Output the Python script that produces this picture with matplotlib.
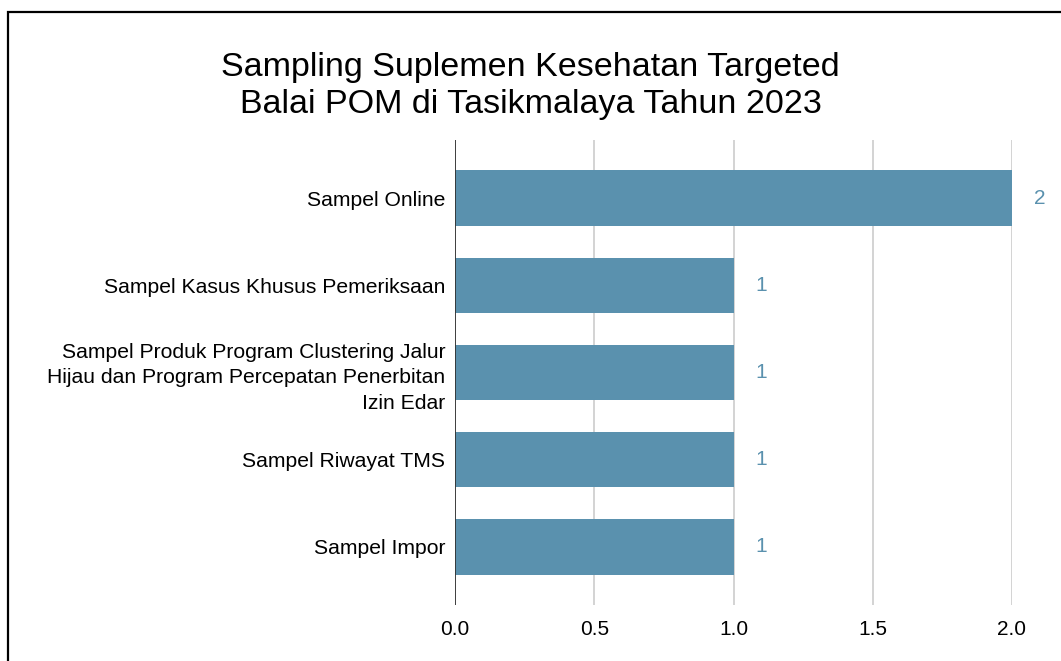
import matplotlib.pyplot as plt
from matplotlib.patches import Rectangle

# ---------- data ----------
categories = [
    "Sampel Online",
    "Sampel Kasus Khusus Pemeriksaan",
    "Sampel Produk Program Clustering Jalur\nHijau dan Program Percepatan Penerbitan\nIzin Edar",
    "Sampel Riwayat TMS",
    "Sampel Impor",
]
values = [2, 1, 1, 1, 1]
xticks = [0.0, 0.5, 1.0, 1.5, 2.0]

BAR_COLOR = "#5a91ae"
W, H = 1061, 661

plt.rcParams["font.family"] = ["Liberation Sans", "DejaVu Sans"]

fig = plt.figure(figsize=(W / 100, H / 100), dpi=100)
ax = fig.add_axes([455 / W, 1 - 605 / H, (1012 - 455) / W, (605 - 140) / H])

pos = list(range(len(categories)))
ax.barh(pos, values, height=0.64, color=BAR_COLOR, zorder=3)
for p, v in zip(pos, values):
    ax.text(v + 0.1, p, f"{v}", color=BAR_COLOR, fontsize=15,
            va="center", ha="center", clip_on=False)

ax.set_ylim(len(categories) - 0.33, -0.67)
ax.set_xlim(0, 2.0)
ax.set_yticks(pos)
ax.set_yticklabels(categories, fontsize=15.2, linespacing=1.45)
ax.set_xticks(xticks)
ax.set_xticklabels([f"{t:.1f}" for t in xticks], fontsize=15)
ax.tick_params(axis="y", length=0, pad=7)
ax.tick_params(axis="x", length=0, pad=11)

ax.grid(axis="x", color="#cccccc", linewidth=1.2, zorder=0)
ax.axvline(0, color="#333333", linewidth=1.3, zorder=4)
for s in ax.spines.values():
    s.set_visible(False)

fig.text(0.5, 1 - 86 / H, "Sampling Suplemen Kesehatan Targeted\nBalai POM di Tasikmalaya Tahun 2023",
         ha="center", va="center", fontsize=24.5, linespacing=1.22)

# outer frame (only left/top visible in original crop)
fig.patches.append(Rectangle((8 / W, -0.1), 1.2, 1.1 - 12 / H,
                             transform=fig.transFigure, fill=False,
                             edgecolor="black", linewidth=1.6))

fig.savefig("out.png", dpi=100)
